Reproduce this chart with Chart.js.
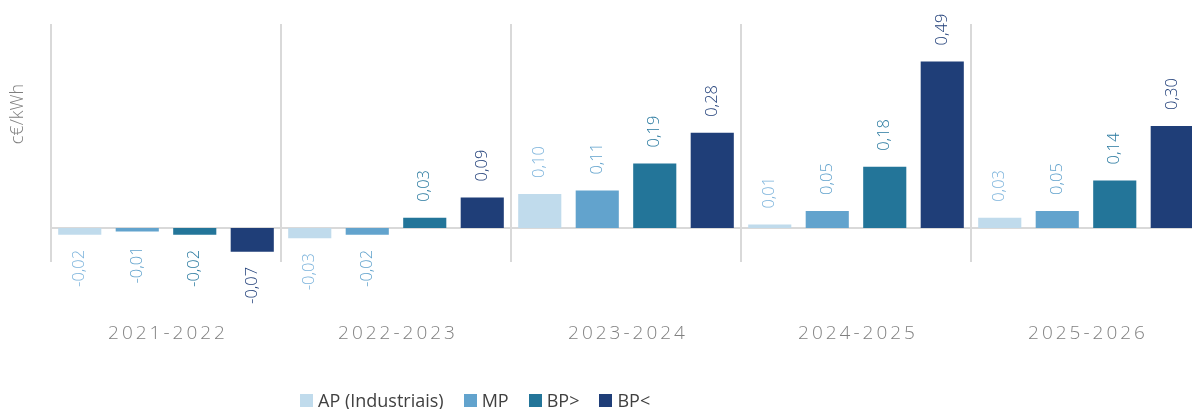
<!DOCTYPE html>
<html>
<head>
<meta charset="utf-8">
<script src="https://cdn.jsdelivr.net/npm/chart.js@4"></script>
<style>
  html, body { margin: 0; padding: 0; background: #fff; overflow: hidden; }
  #wrap { position: relative; width: 1210px; height: 409px; }
  #legend {
    position: absolute; top: 388px; left: 300px;
    display: flex; align-items: center;
    font-family: "Open Sans", sans-serif; font-size: 18px; color: #404040;
  }
  #legend span.item { display: flex; align-items: center; margin-right: 20px; }
  #legend span.box { width: 13px; height: 13px; margin-right: 5px; display: inline-block; }
</style>
</head>
<body>
<div id="wrap">
  <canvas id="chart"></canvas>
  <div id="legend"></div>
</div>
<script>
const periods = ["2021-2022", "2022-2023", "2023-2024", "2024-2025", "2025-2026"];
const seriesNames = ["AP (Industriais)", "MP", "BP>", "BP<"];
const apValues = [-0.02, -0.03, 0.10, 0.01, 0.03];
const mpValues = [-0.01, -0.02, 0.11, 0.05, 0.05];
const bpMaiorValues = [-0.02, 0.03, 0.19, 0.18, 0.14];
const bpMenorValues = [-0.07, 0.09, 0.28, 0.49, 0.30];
const yTitle = "c€/kWh";

const barColors = ["#c0dbec", "#62a3cd", "#237599", "#1f3e78"];
const labelColors = ["#7db4dc", "#62a3cd", "#2a7aa0", "#22407a"];

// rotated value labels above / below each bar
const valueLabels = {
  id: "valueLabels",
  afterDatasetsDraw(chart) {
    const ctx = chart.ctx;
    chart.data.datasets.forEach((ds, i) => {
      const meta = chart.getDatasetMeta(i);
      meta.data.forEach((bar, j) => {
        const v = ds.data[j];
        const txt = v.toFixed(2).replace(".", ",");
        ctx.save();
        ctx.font = "300 16.5px 'Open Sans', sans-serif";
        ctx.fillStyle = labelColors[i];
        ctx.textBaseline = "middle";
        if (v >= 0) {
          ctx.translate(bar.x, bar.y - 16);
          ctx.rotate(-Math.PI / 2);
          ctx.textAlign = "left";
        } else {
          ctx.translate(bar.x, bar.y + 15);
          ctx.rotate(-Math.PI / 2);
          ctx.textAlign = "right";
        }
        ctx.fillText(txt, 0, 0);
        ctx.restore();
      });
    });
  },
};

// spaced category labels and the axis title
const extraText = {
  id: "extraText",
  afterDraw(chart) {
    const ctx = chart.ctx;
    const xs = chart.scales.x;
    ctx.save();
    ctx.font = "300 19px 'Open Sans', sans-serif";
    ctx.letterSpacing = "3px";
    ctx.fillStyle = "#808080";
    ctx.textAlign = "center";
    ctx.textBaseline = "middle";
    periods.forEach((p, i) => {
      ctx.fillText(p, xs.getPixelForValue(i) + 2, 334);
    });
    ctx.restore();

    ctx.save();
    ctx.font = "300 18px 'Open Sans', sans-serif";
    ctx.fillStyle = "#7f7f7f";
    ctx.translate(18, 114);
    ctx.rotate(-Math.PI / 2);
    ctx.textAlign = "center";
    ctx.textBaseline = "middle";
    ctx.fillText(yTitle, 0, 0);
    ctx.restore();
  },
};

const allValues = [apValues, mpValues, bpMaiorValues, bpMenorValues];

new Chart(document.getElementById("chart"), {
  type: "bar",
  data: {
    labels: periods,
    datasets: seriesNames.map((name, i) => ({
      label: name,
      data: allValues[i],
      backgroundColor: barColors[i],
      categoryPercentage: 1.0,
      barPercentage: 0.75,
    })),
  },
  options: {
    responsive: true,
    maintainAspectRatio: false,
    animation: false,
    layout: { padding: { left: 51, right: 9, top: 24, bottom: 147 } },
    plugins: {
      legend: { display: false },
      tooltip: { enabled: false },
    },
    scales: {
      x: {
        ticks: { display: false },
        border: { display: false },
        grid: { offset: true, color: "#d9d9d9", lineWidth: 2, drawTicks: false },
      },
      y: {
        min: -0.1,
        max: 0.6,
        ticks: { display: false, stepSize: 0.1 },
        border: { display: false },
        grid: {
          drawTicks: false,
          lineWidth: 2,
          color: (c) => (c.tick && Math.abs(c.tick.value) < 1e-9 ? "#d9d9d9" : "rgba(0,0,0,0)"),
        },
      },
    },
  },
  plugins: [valueLabels, extraText],
});

const legend = document.getElementById("legend");
seriesNames.forEach((name, i) => {
  const item = document.createElement("span");
  item.className = "item";
  const box = document.createElement("span");
  box.className = "box";
  box.style.background = barColors[i];
  item.appendChild(box);
  item.appendChild(document.createTextNode(name));
  legend.appendChild(item);
});
</script>
</body>
</html>
